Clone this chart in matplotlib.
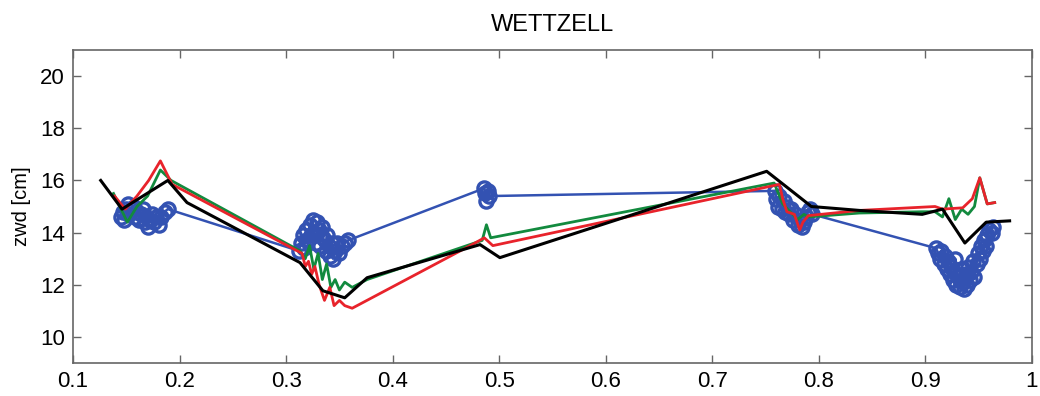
import numpy as np
import matplotlib
matplotlib.use('Agg')
import matplotlib.pyplot as plt

plt.rcParams['font.family'] = ['Liberation Sans', 'DejaVu Sans']

# blue observations (circles + line), five clusters
blue_x = [0.145, 0.147, 0.148, 0.150, 0.152, 0.153, 0.155, 0.157, 0.158, 0.160, 0.162, 0.164, 0.166, 0.168, 0.170, 0.172,
          0.174, 0.176, 0.178, 0.181, 0.183, 0.186, 0.189,
          0.312, 0.314, 0.316, 0.317, 0.319, 0.320, 0.322, 0.323, 0.325, 0.326, 0.328, 0.329, 0.331, 0.332, 0.334, 0.335,
          0.337, 0.338, 0.340, 0.341, 0.343, 0.344, 0.346, 0.348, 0.350, 0.352, 0.355, 0.358,
          0.486, 0.487, 0.488, 0.489, 0.490,
          0.759, 0.760, 0.762, 0.763, 0.765, 0.767, 0.768, 0.770, 0.772, 0.774, 0.776, 0.778, 0.780, 0.782, 0.784, 0.786,
          0.788, 0.790, 0.792, 0.794,
          0.910, 0.912, 0.914, 0.915, 0.917, 0.918, 0.920, 0.921, 0.923, 0.924, 0.926, 0.927, 0.928, 0.929, 0.931, 0.932,
          0.933, 0.935, 0.936, 0.938, 0.939, 0.940, 0.942, 0.943, 0.945, 0.946, 0.948, 0.949, 0.951, 0.952, 0.954, 0.955,
          0.957, 0.958, 0.960, 0.962, 0.963]
blue_y = [14.6, 14.8, 14.5, 14.9, 15.1, 14.7, 14.9, 15.0, 14.6, 14.8, 14.5, 14.7, 14.9, 14.4, 14.2, 14.5,
          14.7, 14.4, 14.6, 14.3, 14.6, 14.8, 14.9,
          13.3, 13.6, 13.9, 13.4, 14.1, 13.7, 14.3, 13.9, 14.5, 14.0, 13.6, 14.4, 14.1, 13.5, 14.2, 13.8,
          13.3, 13.9, 13.5, 13.1, 13.6, 13.0, 13.3, 13.6, 13.2, 13.5, 13.6, 13.7,
          15.7, 15.5, 15.2, 15.6, 15.4,
          15.6, 15.3, 15.0, 15.4, 14.9, 15.2, 14.8, 15.0, 14.7, 14.9, 14.5, 14.7, 14.3, 14.5, 14.2, 14.4,
          14.6, 14.8, 14.9, 14.7,
          13.4, 13.2, 13.0, 13.3, 12.8, 13.1, 12.6, 12.9, 12.4, 12.7, 12.2, 12.5, 13.0, 12.0, 12.3, 11.9,
          12.6, 12.1, 11.85, 12.4, 12.0, 12.7, 12.2, 12.5, 12.9, 12.3, 12.8, 13.2, 13.0, 13.5, 13.3, 13.7,
          13.5, 13.9, 14.1, 14.0, 14.2]

green_x = [0.138, 0.151, 0.160, 0.170, 0.182, 0.192, 0.313, 0.318, 0.322, 0.326, 0.330, 0.334, 0.338, 0.342, 0.346, 0.350,
           0.355, 0.362, 0.376, 0.484, 0.488, 0.492, 0.758, 0.766, 0.773, 0.780, 0.786, 0.790, 0.838, 0.897, 0.909, 0.916,
           0.922, 0.928, 0.934, 0.940, 0.946, 0.951, 0.958, 0.965]
green_y = [15.5, 14.4, 15.0, 15.4, 16.4, 16.0, 13.3, 13.0, 13.5, 12.6, 13.2, 12.2, 12.8, 11.9, 12.2, 11.8,
           12.1, 11.9, 12.2, 13.7, 14.3, 13.8, 15.9, 15.1, 14.8, 14.5, 14.7, 14.6, 14.75, 14.8, 14.8, 14.6,
           15.3, 14.5, 14.9, 14.7, 15.0, 16.1, 15.1, 15.15]

red_x = [0.139, 0.149, 0.160, 0.171, 0.182, 0.193, 0.315, 0.318, 0.321, 0.324, 0.327, 0.331, 0.336, 0.341, 0.345, 0.350,
         0.355, 0.362, 0.475, 0.486, 0.494, 0.763, 0.766, 0.770, 0.777, 0.782, 0.785, 0.790, 0.838, 0.909, 0.916, 0.935,
         0.944, 0.951, 0.958, 0.965]
red_y = [15.4, 14.9, 15.4, 16.0, 16.75, 15.85, 13.2, 12.7, 12.9, 12.4, 12.7, 12.0, 11.4, 11.9, 11.2, 11.4,
         11.2, 11.1, 13.55, 13.8, 13.5, 15.85, 15.3, 14.8, 14.7, 14.1, 14.4, 14.65, 14.85, 15.0, 14.9, 14.95,
         15.3, 16.1, 15.1, 15.15]

black_x = [0.126, 0.146, 0.189, 0.207, 0.313, 0.3345, 0.355, 0.376, 0.482, 0.5006, 0.751, 0.793, 0.838, 0.897, 0.916, 0.937, 0.957, 0.979]
black_y = [16.0, 14.9, 16.0, 15.15, 12.85, 11.77, 11.5, 12.27, 13.54, 13.04, 16.35, 15.0, 14.85, 14.7, 14.9, 13.6, 14.4, 14.45]

fig = plt.figure(figsize=(10.4, 3.96), dpi=100)
ax = fig.add_axes([0.0702, 0.0833, 0.9221, 0.7904])

ax.plot(blue_x, blue_y, '-o', color='#3352b2', lw=1.8, markersize=9.5, markerfacecolor='none', markeredgewidth=2.4)
ax.plot(green_x, green_y, '-', color='#128a3e', lw=2.0)
ax.plot(red_x, red_y, '-', color='#e8232b', lw=2.0)
ax.plot(black_x, black_y, '-', color='black', lw=2.2)

ax.set_xlim(0.1, 1.0)
ax.set_ylim(9, 21)
ax.set_xticks(np.arange(0.1, 1.01, 0.1))
ax.set_xticklabels(['0.1', '0.2', '0.3', '0.4', '0.5', '0.6', '0.7', '0.8', '0.9', '1'])
ax.set_yticks(range(10, 21, 2))
ax.tick_params(direction='in', top=True, right=True, length=6, width=1.0, labelsize=16, color='#666666', pad=6)
for s in ax.spines.values():
    s.set_color('#666666')
    s.set_linewidth(1.2)

ax.set_ylabel('zwd [cm]', fontsize=14.5, labelpad=6)
ax.set_title('WETTZELL', fontsize=17, pad=14)

plt.savefig('out.png', dpi=100)
